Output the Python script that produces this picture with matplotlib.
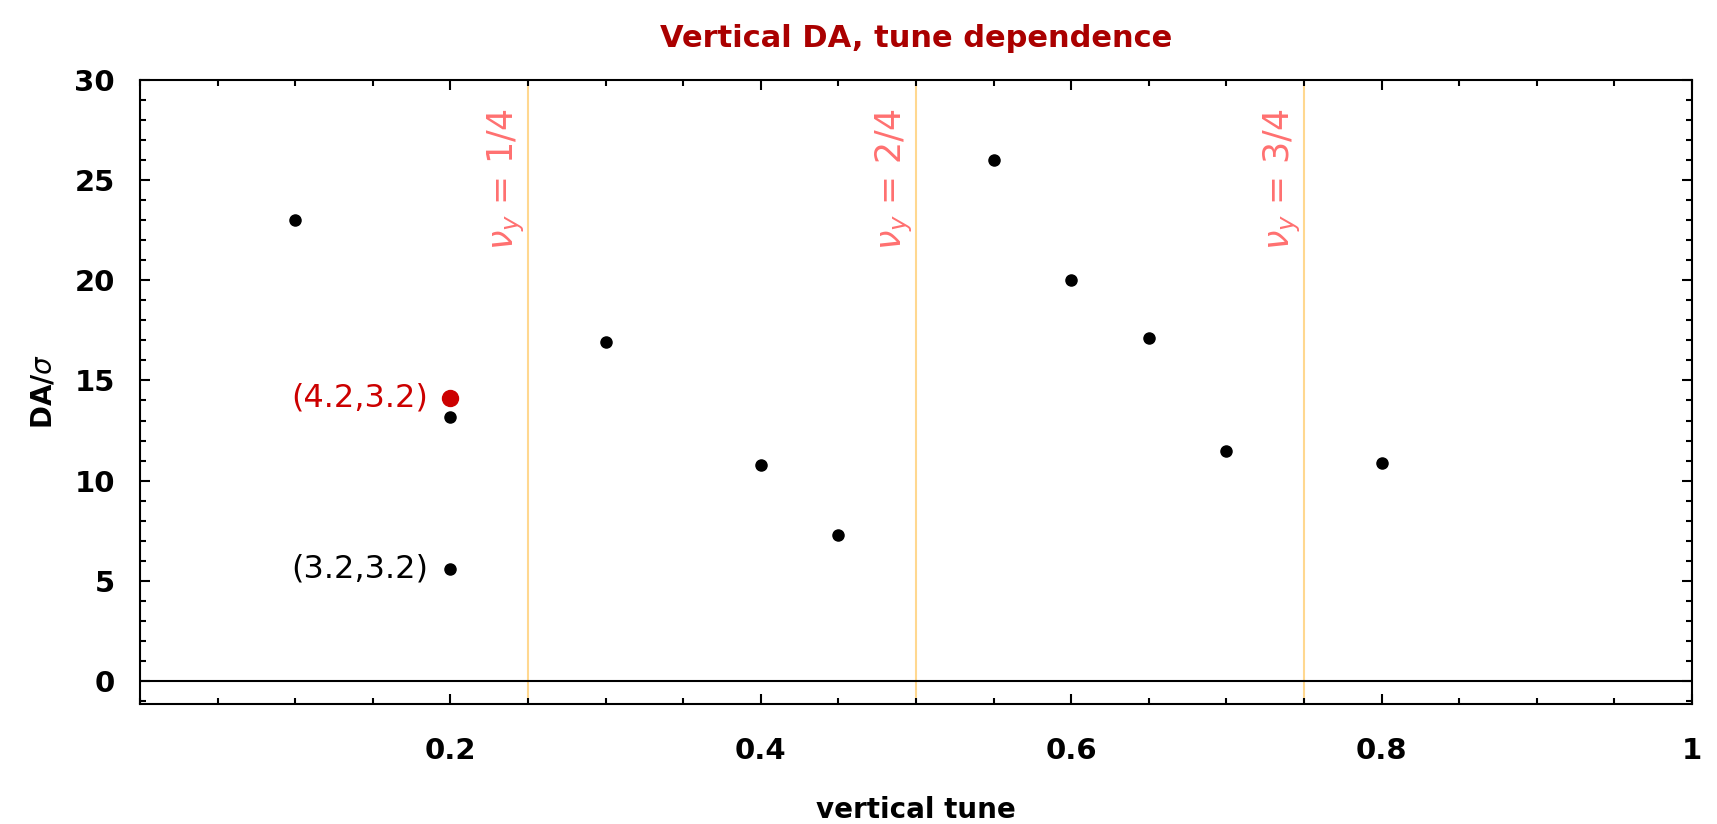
import matplotlib
matplotlib.use("Agg")
import matplotlib.pyplot as plt
from matplotlib.ticker import MultipleLocator

# data
tune = [0.1, 0.2, 0.2, 0.3, 0.4, 0.45, 0.55, 0.6, 0.65, 0.7, 0.8]
da = [23.0, 13.2, 5.6, 16.9, 10.8, 7.3, 26.0, 20.0, 17.1, 11.5, 10.9]
red_tune = [0.2]
red_da = [14.1]
resonances = [0.25, 0.5, 0.75]
res_labels = ["1/4", "2/4", "3/4"]
notes = [("(4.2,3.2)", 0.2, 14.1, "#cc0000"), ("(3.2,3.2)", 0.2, 5.6, "black")]

fig = plt.figure(figsize=(17.17, 8.24), dpi=100)
ax = fig.add_axes([0.0815, 0.1456, 0.9039, 0.7574])

for x, lab in zip(resonances, res_labels):
    ax.axvline(x, color="#ffd890", lw=1.5, zorder=1)
    ax.text(x - 0.014, 28.6, r"$\nu_y$ = " + lab, rotation=90, ha="center", va="top",
            color="#ff7070", fontsize=25)

ax.axhline(0, color="black", lw=1.5, zorder=2)
ax.plot(tune, da, "o", color="black", ms=8, zorder=3)
ax.plot(red_tune, red_da, "o", color="#cc0000", ms=11.5, zorder=4)

for txt, x, y, c in notes:
    ax.text(x - 0.014, y, txt, ha="right", va="center", color=c, fontsize=23)

ax.set_xlim(0, 1)
ax.set_ylim(-1.15, 30)
ax.xaxis.set_minor_locator(MultipleLocator(0.05))
ax.yaxis.set_major_locator(MultipleLocator(5))
ax.yaxis.set_minor_locator(MultipleLocator(1))
ax.set_xticks([0.2, 0.4, 0.6, 0.8, 1.0])
ax.set_xticklabels(["0.2", "0.4", "0.6", "0.8", "1"])

ax.tick_params(which="both", direction="in", top=True, right=True, width=1.5)
ax.tick_params(which="major", length=7, labelsize=21)
ax.tick_params(axis="x", which="major", pad=24)
ax.tick_params(axis="y", which="major", pad=18)
ax.tick_params(which="minor", length=4.5)
for lbl in ax.get_xticklabels() + ax.get_yticklabels():
    lbl.set_fontweight("bold")
for s in ax.spines.values():
    s.set_linewidth(1.5)

ax.set_xlabel("vertical tune", fontsize=20, fontweight="bold", labelpad=22)
ax.set_ylabel(r"DA/$\sigma$", fontsize=20, fontweight="bold", labelpad=12)
ax.set_title("Vertical DA, tune dependence", color="#aa0000", fontsize=22,
             fontweight="bold", pad=24)

fig.savefig("out.png", dpi=100, facecolor="white")
